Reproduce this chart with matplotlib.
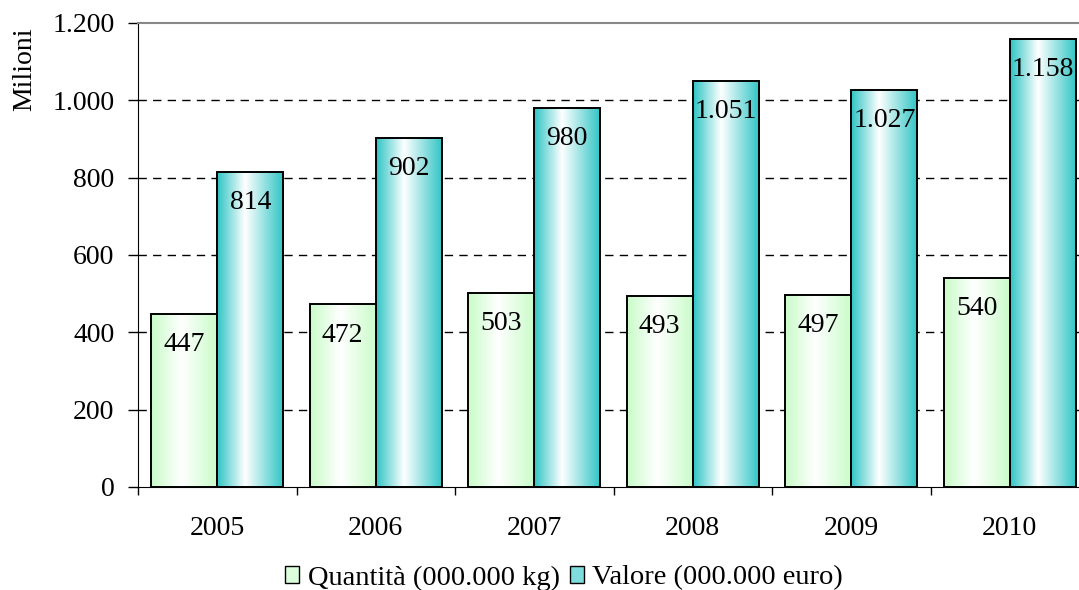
import numpy as np
import matplotlib.pyplot as plt
from matplotlib import font_manager
from matplotlib.colors import LinearSegmentedColormap
from matplotlib.patches import Patch

anni = ['2005', '2006', '2007', '2008', '2009', '2010']
quantita = [447, 472, 503, 493, 497, 540]
valore = [814, 902, 980, 1051, 1027, 1158]
serie = ['Quantità (000.000 kg)', 'Valore (000.000 euro)']

# cerca un font tipo Times (Liberation Serif)
famiglia = 'DejaVu Serif'
for f in font_manager.findSystemFonts():
    if 'LiberationSerif-Regular' in f.replace(' ', ''):
        font_manager.fontManager.addfont(f)
        famiglia = font_manager.FontProperties(fname=f).get_name()
        break
plt.rcParams['font.family'] = [famiglia, 'DejaVu Serif']

def fmt(v):
    return f'{v:,}'.replace(',', '.')

# gradienti orizzontali: bordi colorati, centro bianco
cm_verde = LinearSegmentedColormap.from_list('verde', [(0, '#c8fcc8'), (0.45, '#ffffff'), (1, '#c8fcc8')])
cm_teal = LinearSegmentedColormap.from_list('teal', [(0, '#2ec4c4'), (0.42, '#ffffff'), (1, '#2ec4c4')])
grad = np.linspace(0, 1, 256).reshape(1, -1)

fig = plt.figure(figsize=(10.79, 5.90), dpi=100)
# l'area del grafico continua oltre il bordo destro dell'immagine
ax = fig.add_axes([138 / 1079, 103 / 590, 951 / 1079, 464 / 590])

x = np.arange(len(anni))
w = 0.417
b1 = ax.bar(x - w / 2, quantita, w, facecolor='none', edgecolor='black', linewidth=1.4, zorder=3)
b2 = ax.bar(x + w / 2, valore, w, facecolor='none', edgecolor='black', linewidth=1.4, zorder=3)

for bars, cm in [(b1, cm_verde), (b2, cm_teal)]:
    for r in bars:
        x0, y0 = r.get_x(), r.get_y()
        im = ax.imshow(grad, extent=[x0, x0 + r.get_width(), y0, y0 + r.get_height()],
                       aspect='auto', cmap=cm, zorder=2, interpolation='bicubic')
        im.set_clip_path(r)

for bars, vals in [(b1, quantita), (b2, valore)]:
    for r, v in zip(bars, vals):
        ax.annotate(fmt(v), (r.get_x() + r.get_width() / 2, v), xytext=(0, -22),
                    textcoords='offset points', ha='center', va='center',
                    fontsize=20, zorder=4)

ax.set_xlim(-0.5, len(anni) - 0.5)
ax.set_ylim(0, 1200)
ax.set_yticks(range(0, 1201, 200))
ax.set_yticklabels([fmt(v) for v in range(0, 1201, 200)], fontsize=20)
ax.set_ylabel('Milioni', fontsize=20)
ax.yaxis.set_label_coords(-0.106, 0.9)

ax.set_xticks(x)
ax.set_xticklabels(anni, fontsize=20)
ax.tick_params(axis='x', length=0, pad=21)
ax.set_xticks(np.arange(-0.5, len(anni) + 0.5, 1), minor=True)
ax.tick_params(axis='x', which='minor', length=6, direction='out', width=1)
ax.tick_params(axis='y', length=7, direction='out', width=1, pad=10)

for yv in range(200, 1200, 200):
    ax.axhline(yv, linestyle=(0, (6, 4.5)), color='black', linewidth=1, zorder=1)
ax.spines['right'].set_visible(False)
ax.spines['top'].set_color('#888888')
ax.spines['top'].set_linewidth(1.5)

handles = [Patch(facecolor='#dcfedc', edgecolor='black', linewidth=1),
           Patch(facecolor='#7fdcdc', edgecolor='black', linewidth=1)]
fig.legend(handles, serie, loc='center', ncol=2, frameon=False, fontsize=20.5,
           bbox_to_anchor=(564 / 1079, 12 / 590), handlelength=0.5, handleheight=0.5,
           handletextpad=0.3, columnspacing=0.35, borderpad=0)

fig.savefig('out.png', dpi=100)
